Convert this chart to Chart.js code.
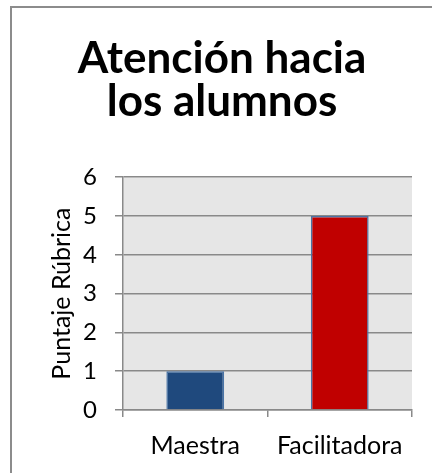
<!DOCTYPE html>
<html>
<head>
<meta charset="utf-8">
<script src="https://cdn.jsdelivr.net/npm/chart.js@4/dist/chart.umd.min.js"></script>
<style>
  body { margin: 0; background: #fff; }
  canvas { display: block; }
</style>
</head>
<body>
<canvas id="rubrica" width="432" height="473"></canvas>
<script>
var categories = ["Maestra", "Facilitadora"];
var puntajes = [1, 5];
var barColors = ["#1F497D", "#C00000"];
var titleLines = ["Atención hacia", "los alumnos"];
var yTitle = "Puntaje Rúbrica";

// gray plot background + the cropped outer frame
var plotBg = {
  id: 'plotBg',
  beforeDraw: function(chart) {
    var c = chart.ctx, a = chart.chartArea;
    c.save();
    c.fillStyle = '#E6E6E6';
    c.fillRect(a.left, a.top, a.right - a.left, a.bottom - a.top);
    c.strokeStyle = '#8C8C8C';
    c.lineWidth = 2;
    c.beginPath();
    c.moveTo(11, 473);
    c.lineTo(11, 7);
    c.lineTo(432, 7);
    c.stroke();
    c.restore();
  }
};

var ctx = document.getElementById("rubrica");
var chart = new Chart(ctx, {
  type: 'bar',
  data: {
    labels: categories,
    datasets: [{
      data: puntajes,
      backgroundColor: barColors,
      borderColor: '#4A74A6',
      borderWidth: 1.5,
      categoryPercentage: 1,
      barPercentage: 0.4
    }]
  },
  options: {
    responsive: false,
    animation: false,
    devicePixelRatio: 1,
    layout: { padding: { left: 32, right: 20, top: 0, bottom: 0 } },
    plugins: {
      legend: { display: false },
      tooltip: { enabled: false },
      title: {
        display: true,
        text: titleLines,
        color: '#000',
        font: { family: 'Lato', size: 44, weight: 'bold', lineHeight: 0.98 },
        padding: { top: 37, bottom: 54 }
      }
    },
    scales: {
      y: {
        min: 0,
        max: 6,
        ticks: { stepSize: 1, color: '#000', padding: 18, font: { family: 'Lato', size: 24 } },
        grid: { color: '#898989', lineWidth: 1.5, tickLength: 8 },
        border: { color: '#898989', width: 1.5 },
        title: {
          display: true,
          text: yTitle,
          color: '#000',
          font: { family: 'Lato', size: 25 },
          padding: { top: 15, bottom: 0 }
        },
        afterFit: function(scale) { scale.width = 91; }
      },
      x: {
        ticks: { color: '#000', padding: 14, font: { family: 'Lato', size: 25 } },
        grid: { offset: true, drawOnChartArea: false, color: '#898989', lineWidth: 1.5, tickLength: 7 },
        border: { color: '#898989', width: 1.5 },
        afterFit: function(scale) { scale.height = 63; }
      }
    }
  },
  plugins: [plotBg]
});
</script>
</body>
</html>
